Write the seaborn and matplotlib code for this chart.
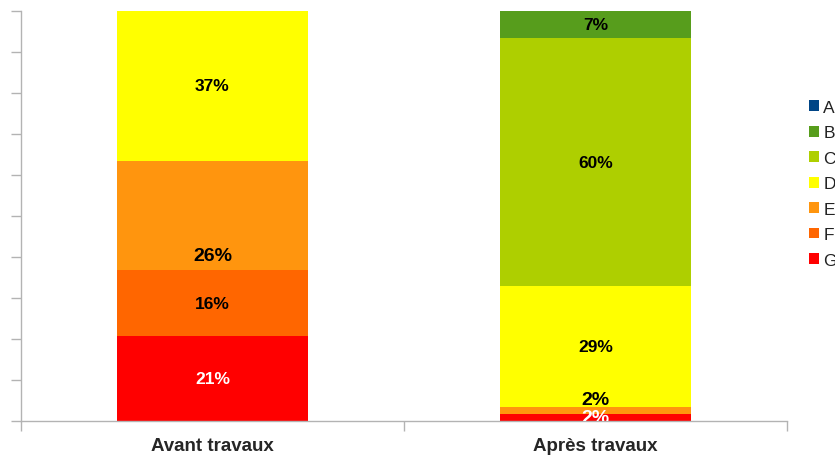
import matplotlib
matplotlib.use("Agg")
import matplotlib.pyplot as plt
from matplotlib.patches import Patch
import seaborn as sns
import pandas as pd

# ====================== DATA ======================
periods = ["Avant travaux", "Après travaux"]
classes = ["A", "B", "C", "D", "E", "F", "G"]
# share of each energy class (percent)
avant = [0, 0, 0, 36.8, 26.6, 15.9, 20.7]
apres = [0, 6.8, 60.5, 29.3, 1.7, 0, 1.7]
label_avant = ["", "", "", "37%", "26%", "16%", "21%"]
label_apres = ["", "7%", "60%", "29%", "2%", "", "2%"]
colors = ["#004586", "#579d1c", "#aecf00", "#ffff00", "#ff950e", "#ff6600", "#ff0000"]

sns.set_style("white")
plt.rcParams["font.family"] = ["Liberation Sans", "DejaVu Sans"]

fig = plt.figure(figsize=(8.35, 4.56), dpi=100)
ax = fig.add_axes([21 / 835, 34.5 / 456, 766 / 835, 410 / 456])

df = pd.DataFrame({"classe": classes, periods[0]: avant, periods[1]: apres})
long = df.melt(id_vars="classe", var_name="periode", value_name="part")

# stack from G (bottom) up to A
bottoms = {p: 0.0 for p in periods}
for cls, col in zip(reversed(classes), reversed(colors)):
    sub = long[long["classe"] == cls].set_index("periode").loc[periods].reset_index()
    base = [bottoms[p] for p in periods]
    sns.barplot(data=sub, x="periode", y="part", order=periods, color=col,
                width=0.5, bottom=base, ax=ax, linewidth=0, saturation=1, errorbar=None)
    for p in periods:
        bottoms[p] += sub.set_index("periode").loc[p, "part"]

# ---- value labels (positions follow the original chart) ----
def seg_mid(vals, i):
    below = sum(vals[i + 1:])
    return below + vals[i] / 2

big = {("avant", 4): -9.7, ("apres", 4): 2.5}
for key, vals, labs, xpos in [("avant", avant, label_avant, 0), ("apres", apres, label_apres, 1)]:
    for i, lab in enumerate(labs):
        if not lab:
            continue
        y = seg_mid(vals, i)
        size = 12.5
        if (key, i) in big:
            y += big[(key, i)]
            size = 14
        if classes[i] == "G" and key == "apres":
            size = 14
        color = "white" if classes[i] == "G" else "black"
        ax.text(xpos, y, lab, ha="center", va="center", fontsize=size,
                fontweight="bold", color=color, clip_on=True, zorder=5)

ax.set_xlim(-0.5, 1.5)
ax.set_ylim(0, 100)
ax.set_xlabel("")
ax.set_ylabel("")
ax.set_yticks(range(0, 101, 10))
ax.set_yticklabels([])
ax.set_xticks([0, 1])
ax.set_xticklabels(periods, fontsize=13.5, fontweight="bold")
ax.set_xticks([-0.5, 0.5, 1.5], minor=True)
ax.tick_params(axis="x", which="major", length=0, pad=12)
ax.tick_params(axis="x", which="minor", length=7, color="#b3b3b3", width=1, direction="out", bottom=True)
ax.tick_params(axis="y", length=7, color="#b3b3b3", width=1, direction="out", left=True)
for side in ["top", "right"]:
    ax.spines[side].set_visible(False)
for side in ["left", "bottom"]:
    ax.spines[side].set_color("#b3b3b3")
    ax.spines[side].set_linewidth(1)
ax.set_facecolor("white")

handles = [Patch(facecolor=c, edgecolor="none", label=l) for c, l in zip(colors, classes)]
fig.legend(handles=handles, loc="upper left", bbox_to_anchor=(809 / 835, 1 - 101 / 456),
           frameon=False, fontsize=12.5, handlelength=0.58, handleheight=0.58,
           handletextpad=0.25, labelspacing=0.6, borderaxespad=0, borderpad=0,
           labelcolor="#222222")

fig.savefig("out.png", dpi=100, facecolor="white")
